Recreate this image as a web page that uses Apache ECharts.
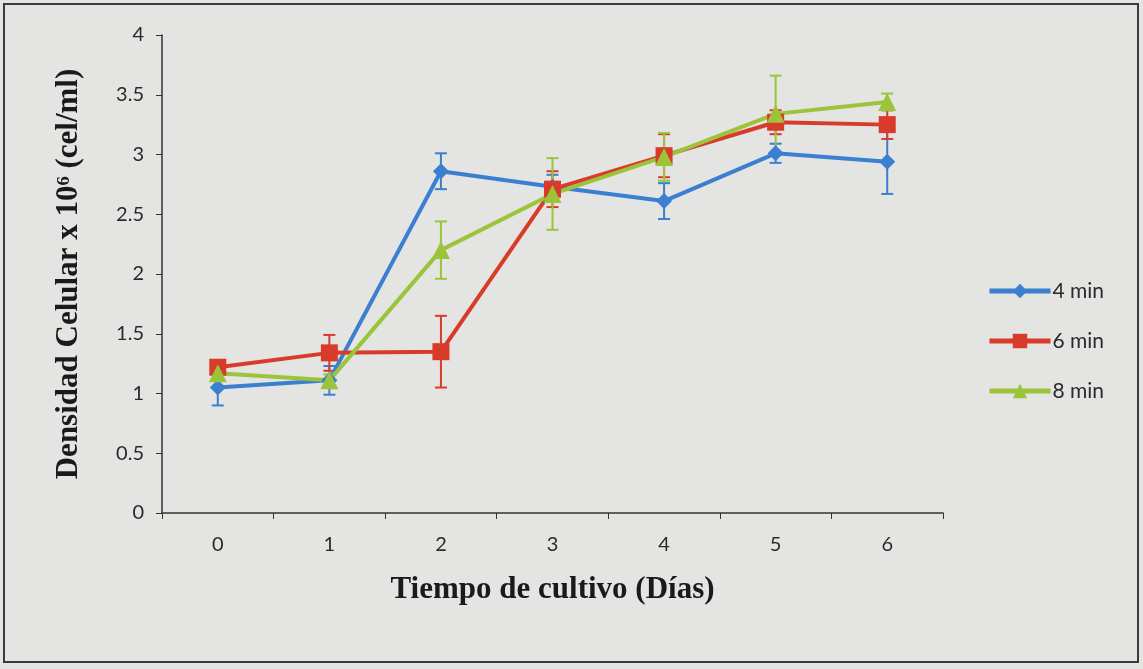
<!DOCTYPE html>
<html><head><meta charset="utf-8">
<script src="https://cdn.jsdelivr.net/npm/echarts@6/dist/echarts.min.js"></script>
<style>html,body{margin:0;padding:0;background:#e4e4e2;}#c{width:1143px;height:669px;}</style>
</head><body><div id="c"></div>
<script>
const days = ['0','1','2','3','4','5','6'];
const seriesNames = ['4 min','6 min','8 min'];
const v4 = [1.05, 1.11, 2.86, 2.73, 2.61, 3.01, 2.94];
const e4 = [0.15, 0.12, 0.15, 0.10, 0.15, 0.08, 0.27];
const v6 = [1.22, 1.34, 1.35, 2.71, 2.99, 3.27, 3.25];
const e6 = [0.05, 0.15, 0.30, 0.15, 0.18, 0.10, 0.12];
const v8 = [1.17, 1.11, 2.20, 2.67, 2.98, 3.34, 3.44];
const e8 = [0.05, 0.05, 0.24, 0.30, 0.20, 0.32, 0.07];

const colors = ['#3b7fd0', '#d93b2b', '#9cc43a'];
const symbols = ['diamond', 'rect', 'triangle'];
const symSizes = [16, 17, 18];
const vals = [v4, v6, v8];
const errs = [e4, e6, e8];

function errSeries(k) {
  return {
    type: 'custom',
    name: seriesNames[k] + ' error',
    z: 3,
    silent: true,
    data: vals[k].map((v, i) => [i, v - errs[k][i], v + errs[k][i]]),
    renderItem: function (params, api) {
      const lo = api.coord([api.value(0), api.value(1)]);
      const hi = api.coord([api.value(0), api.value(2)]);
      const w = 6;
      const st = {stroke: colors[k], lineWidth: 2};
      return {type: 'group', children: [
        {type: 'line', shape: {x1: lo[0], y1: lo[1], x2: hi[0], y2: hi[1]}, style: st},
        {type: 'line', shape: {x1: lo[0]-w, y1: lo[1], x2: lo[0]+w, y2: lo[1]}, style: st},
        {type: 'line', shape: {x1: hi[0]-w, y1: hi[1], x2: hi[0]+w, y2: hi[1]}, style: st}
      ]};
    }
  };
}

const series = [];
for (let k = 0; k < 3; k++) {
  series.push(errSeries(k));
}
for (let k = 0; k < 3; k++) {
  series.push({
    type: 'line',
    name: seriesNames[k],
    data: vals[k],
    z: 4,
    symbol: symbols[k],
    symbolSize: symSizes[k],
    showAllSymbol: true,
    itemStyle: {color: colors[k]},
    lineStyle: {color: colors[k], width: 4},
    emphasis: {disabled: true}
  });
}

const chart = echarts.init(document.getElementById('c'));
chart.setOption({
  backgroundColor: '#e4e4e2',
  animation: false,
  color: colors,
  grid: {left: 162, right: 200, top: 35, bottom: 156, containLabel: false},
  graphic: [{type: 'rect', shape: {x: 4, y: 4, width: 1134, height: 658}, style: {fill: 'none', stroke: '#3a3a3a', lineWidth: 2}, silent: true}],
  legend: {
    orient: 'vertical',
    left: 982,
    top: 275,
    itemGap: 28,
    itemWidth: 61,
    itemHeight: 18,
    lineStyle: {width: 5},
    data: seriesNames.map(n => ({name: n})),
    textStyle: {fontFamily: 'Lato, "Open Sans", sans-serif', fontSize: 21, lineHeight: 22, color: '#2a2a2a', padding: [0,0,0,-3]}
  },
  xAxis: {
    type: 'category',
    data: days,
    boundaryGap: true,
    name: 'Tiempo de cultivo (Días)',
    nameLocation: 'middle',
    nameGap: 61,
    nameTextStyle: {fontFamily: '"Liberation Serif", "DejaVu Serif", serif', fontWeight: 'bold', fontSize: 31, color: '#1a1a1a'},
    axisLine: {lineStyle: {color: '#333', width: 1.5}},
    axisTick: {show: true, length: 6, lineStyle: {color: '#333'}},
    axisLabel: {fontFamily: 'Lato, "Open Sans", sans-serif', fontSize: 20, color: '#2a2a2a', margin: 22},
    splitLine: {show: false}
  },
  yAxis: {
    type: 'value',
    min: 0, max: 4, interval: 0.5,
    name: 'Densidad Celular x 10⁶ (cel/ml)',
    nameLocation: 'middle',
    nameGap: 78,
    nameRotate: 90,
    nameTextStyle: {fontFamily: '"Liberation Serif", "DejaVu Serif", serif', fontWeight: 'bold', fontSize: 31, color: '#1a1a1a'},
    axisLine: {show: true, lineStyle: {color: '#333', width: 1.5}},
    axisTick: {show: true, length: 6, lineStyle: {color: '#333'}},
    axisLabel: {fontFamily: 'Lato, "Open Sans", sans-serif', fontSize: 20, color: '#2a2a2a', margin: 18},
    splitLine: {show: false}
  },
  series: series
});
</script></body></html>
